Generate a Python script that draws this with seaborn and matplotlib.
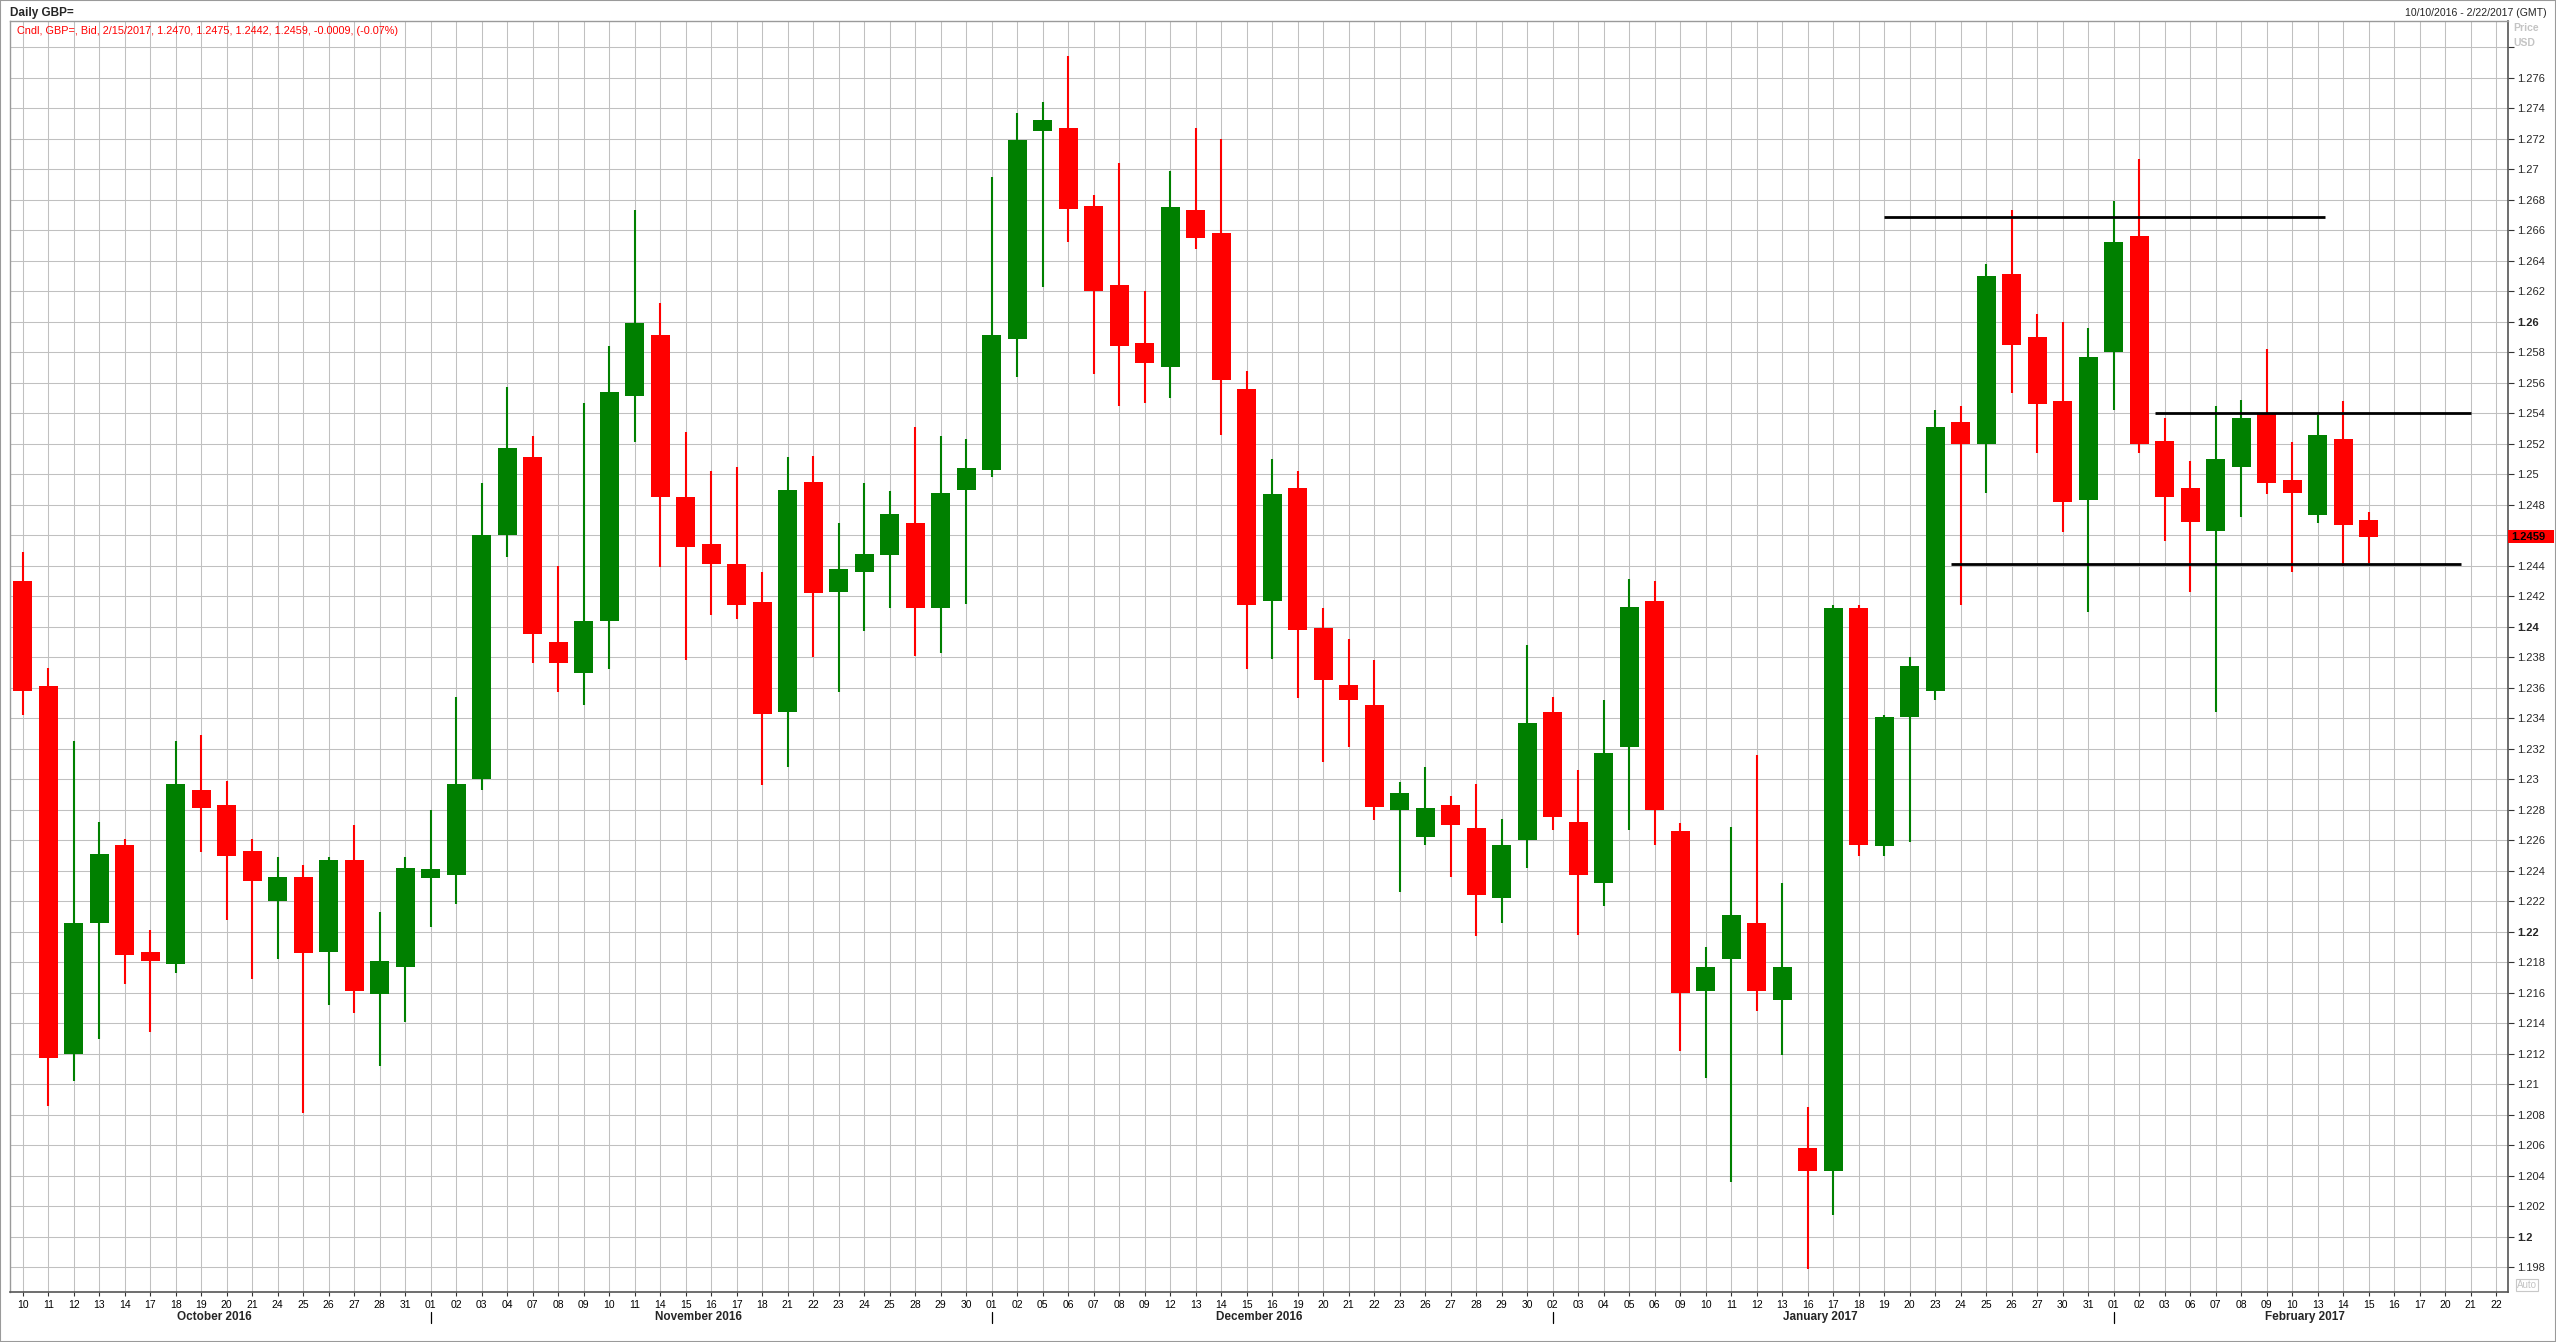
"""
GBP= daily candles, 10 Oct 2016 - 15 Feb 2017, with three support/resistance lines.
Writes out.png (2556 x 1342).
"""

import matplotlib
matplotlib.use("Agg")  # headless

import matplotlib.pyplot as plt
import matplotlib.transforms as mtransforms
from matplotlib.patches import Rectangle
import seaborn as sns
import pandas as pd
import numpy as np

# ──────────────────────────────────────────────
# DATA
# ──────────────────────────────────────────────

# one slot per weekday, the last five are empty (chart runs to 22 Feb)
days = pd.bdate_range("2016-10-10", "2017-02-22")

opens = [
    1.2430, 1.2361, 1.2120, 1.2206, 1.2257, 1.2187, 1.2179, 1.2293, 1.2283, 1.2253,
    1.2220, 1.2236, 1.2187, 1.2247, 1.2159, 1.2177, 1.2235, 1.2237, 1.2300, 1.2460,
    1.2511, 1.2390, 1.2370, 1.2404, 1.2551, 1.2591, 1.2485, 1.2454, 1.2441, 1.2416,
    1.2344, 1.2495, 1.2423, 1.2436, 1.2447, 1.2468, 1.2412, 1.2490, 1.2503, 1.2589,
    1.2725, 1.2727, 1.2676, 1.2624, 1.2586, 1.2570, 1.2673, 1.2658, 1.2556, 1.2417,
    1.2491, 1.2399, 1.2362, 1.2349, 1.2280, 1.2262, 1.2283, 1.2268, 1.2222, 1.2260,
    1.2344, 1.2272, 1.2232, 1.2321, 1.2417, 1.2266, 1.2161, 1.2182, 1.2206, 1.2155,
    1.2058, 1.2043, 1.2412, 1.2256, 1.2341, 1.2358, 1.2534, 1.2520, 1.2631, 1.2590,
    1.2548, 1.2483, 1.2580, 1.2656, 1.2522, 1.2491, 1.2463, 1.2505, 1.2540, 1.2496,
    1.2473, 1.2523, 1.2470,
]
highs = [
    1.2449, 1.2373, 1.2325, 1.2272, 1.2261, 1.2201, 1.2325, 1.2329, 1.2299, 1.2261,
    1.2249, 1.2244, 1.2249, 1.2270, 1.2213, 1.2249, 1.2280, 1.2354, 1.2494, 1.2557,
    1.2525, 1.2440, 1.2547, 1.2584, 1.2673, 1.2612, 1.2528, 1.2502, 1.2505, 1.2436,
    1.2511, 1.2512, 1.2468, 1.2494, 1.2489, 1.2531, 1.2525, 1.2523, 1.2695, 1.2737,
    1.2744, 1.2774, 1.2683, 1.2704, 1.2620, 1.2699, 1.2727, 1.2720, 1.2568, 1.2510,
    1.2502, 1.2412, 1.2392, 1.2378, 1.2298, 1.2308, 1.2289, 1.2297, 1.2274, 1.2388,
    1.2354, 1.2306, 1.2352, 1.2431, 1.2430, 1.2271, 1.2190, 1.2269, 1.2316, 1.2232,
    1.2085, 1.2414, 1.2414, 1.2342, 1.2380, 1.2542, 1.2545, 1.2638, 1.2673, 1.2605,
    1.2600, 1.2596, 1.2679, 1.2707, 1.2537, 1.2509, 1.2545, 1.2549, 1.2582, 1.2521,
    1.2539, 1.2548, 1.2475,
]
lows = [
    1.2342, 1.2086, 1.2102, 1.2130, 1.2166, 1.2134, 1.2173, 1.2252, 1.2208, 1.2169,
    1.2182, 1.2081, 1.2152, 1.2147, 1.2112, 1.2141, 1.2203, 1.2218, 1.2293, 1.2446,
    1.2376, 1.2357, 1.2349, 1.2372, 1.2521, 1.2439, 1.2378, 1.2408, 1.2405, 1.2296,
    1.2308, 1.2380, 1.2357, 1.2397, 1.2412, 1.2381, 1.2383, 1.2415, 1.2498, 1.2564,
    1.2623, 1.2652, 1.2566, 1.2545, 1.2547, 1.2550, 1.2648, 1.2526, 1.2372, 1.2379,
    1.2353, 1.2311, 1.2321, 1.2273, 1.2226, 1.2257, 1.2236, 1.2197, 1.2206, 1.2242,
    1.2267, 1.2198, 1.2217, 1.2267, 1.2257, 1.2122, 1.2104, 1.2036, 1.2148, 1.2119,
    1.1979, 1.2014, 1.2250, 1.2250, 1.2259, 1.2352, 1.2414, 1.2488, 1.2553, 1.2514,
    1.2462, 1.2410, 1.2542, 1.2514, 1.2456, 1.2423, 1.2344, 1.2472, 1.2487, 1.2436,
    1.2468, 1.2440, 1.2442,
]
closes = [
    1.2358, 1.2117, 1.2206, 1.2251, 1.2185, 1.2181, 1.2297, 1.2281, 1.2250, 1.2233,
    1.2236, 1.2186, 1.2247, 1.2161, 1.2181, 1.2242, 1.2241, 1.2297, 1.2460, 1.2517,
    1.2395, 1.2376, 1.2404, 1.2554, 1.2599, 1.2485, 1.2452, 1.2441, 1.2414, 1.2343,
    1.2490, 1.2422, 1.2438, 1.2448, 1.2474, 1.2412, 1.2488, 1.2504, 1.2591, 1.2719,
    1.2732, 1.2674, 1.2620, 1.2584, 1.2573, 1.2675, 1.2655, 1.2562, 1.2414, 1.2487,
    1.2398, 1.2365, 1.2352, 1.2282, 1.2291, 1.2281, 1.2270, 1.2224, 1.2257, 1.2337,
    1.2275, 1.2237, 1.2317, 1.2413, 1.2280, 1.2160, 1.2177, 1.2211, 1.2161, 1.2177,
    1.2043, 1.2412, 1.2257, 1.2341, 1.2374, 1.2531, 1.2520, 1.2630, 1.2585, 1.2546,
    1.2482, 1.2577, 1.2652, 1.2520, 1.2485, 1.2469, 1.2510, 1.2537, 1.2494, 1.2488,
    1.2526, 1.2467, 1.2459,
]

# hand-drawn trend lines: level, first slot, last slot
line_levels = [1.2669, 1.2540, 1.2441]
line_starts = [73.0, 83.6, 75.6]
line_ends = [90.3, 96.0, 95.6]

month_names = ["October 2016", "November 2016", "December 2016",
               "January 2017", "February 2017"]

header = "Daily GBP="
legend_text = ("Cndl, GBP=, Bid, 2/15/2017, 1.2470, 1.2475, 1.2442, 1.2459, "
               "-0.0009, (-0.07%)")
range_text = "10/10/2016 - 2/22/2017 (GMT)"
last_price = 1.2459

RED = "#ff0000"
GREEN = "#008000"
GRID = "#c0c0c0"

# ──────────────────────────────────────────────
# FRAME
# ──────────────────────────────────────────────

sns.set_style("white")
plt.rcParams["font.family"] = ["Liberation Sans", "DejaVu Sans"]
NARROW = ["Liberation Sans Narrow", "Liberation Sans", "DejaVu Sans"]

W, H = 2556, 1342
fig = plt.figure(figsize=(W / 100, H / 100), dpi=100)
fig.patch.set_facecolor("white")

# plot area in pixels: x 10 -> 2507.7, y 21 -> 1292.3
ax = fig.add_axes([10 / W, 1 - 1292.3 / H, (2507.7 - 10) / W, (1292.3 - 21) / H])

df = pd.DataFrame({"open": opens, "high": highs, "low": lows, "close": closes})
df["date"] = days[: len(df)]
df["pos"] = np.arange(len(df))
df["up"] = df["close"] >= df["open"]
df["color"] = np.where(df["up"], GREEN, RED)
df["body_lo"] = df[["open", "close"]].min(axis=1)
df["body_h"] = (df["close"] - df["open"]).abs().clip(lower=0.00006)

# wicks then bodies
ax.vlines(df["pos"], df["low"], df["high"], colors=df["color"], lw=1.5, zorder=2)
ax.bar(df["pos"], df["body_h"], bottom=df["body_lo"], width=0.745,
       color=df["color"], linewidth=0, zorder=3)

# trend lines
for lvl, a, b in zip(line_levels, line_starts, line_ends):
    ax.hlines(lvl, a, b, colors="black", lw=2.0, zorder=4)

# ── axes, grid ──
ax.set_xlim(-0.5, 97.45)
ax.set_ylim(1.19636, 1.27972)

slots = np.arange(len(days))
ax.set_xticks(slots)
ax.set_xticklabels([f"{d.day:02d}" for d in days], family=NARROW, fontsize=7.5)
ax.tick_params(axis="x", length=3, width=0.8, pad=2.5, color="#333333",
               labelcolor="black", direction="out", bottom=True)

yt = np.round(np.arange(1.198, 1.2781, 0.002), 3)
ylabels = []
for v in yt:
    if v >= 1.2775 or abs(v - 1.246) < 1e-6:
        ylabels.append("")  # hidden behind header / price tag
    else:
        ylabels.append(f"{v:g}")
ax.yaxis.tick_right()
ax.set_yticks(yt)
ax.set_yticklabels(ylabels, fontsize=8)
for lab, v in zip(ax.get_yticklabels(), yt):
    if abs(v * 100 - round(v * 100)) < 1e-6 and round(v * 100) % 2 == 0:
        lab.set_fontweight("bold")
ax.tick_params(axis="y", length=4, width=0.8, pad=3, color="#333333",
               right=True, left=False)

ax.grid(True, color=GRID, lw=0.75)
ax.set_axisbelow(True)

for side in ["left", "top"]:
    ax.spines[side].set_color("#9a9a9a")
    ax.spines[side].set_linewidth(1.0)
for side in ["right", "bottom"]:
    ax.spines[side].set_color("#555555")
    ax.spines[side].set_linewidth(1.2)

# ── month captions and separators under the day labels ──
month_key = days.strftime("%Y-%m")
blend = mtransforms.blended_transform_factory(ax.transData, fig.transFigure)
for name, key in zip(month_names, month_key.unique()):
    idx = slots[month_key == key]
    ax.text(idx.mean(), 1 - 1317 / H, name, transform=blend, ha="center",
            va="center", fontsize=8.5, fontweight="bold", family=NARROW)
    if idx[0] > 0:
        ax.plot([idx[0], idx[0]], [1 - 1311.5 / H, 1 - 1323 / H], transform=blend,
                color="black", lw=0.9, clip_on=False)

# ── last price tag on the right axis ──
tag = mtransforms.blended_transform_factory(ax.transAxes, ax.transData)
half = 6.5 / 30.5 * 0.002
ax.add_patch(Rectangle((1.0, last_price - half), 46 / 2497.7, 2 * half,
                       transform=tag, facecolor=RED, edgecolor="none",
                       clip_on=False, zorder=5))
ax.text(1.0015, last_price, f"{last_price:.4f}", transform=tag, ha="left",
        va="center", fontsize=8, fontweight="bold", color="black", zorder=6)

# ──────────────────────────────────────────────
# HEADER / SIDE TEXTS
# ──────────────────────────────────────────────

fig.text(10 / W, 1 - 13 / H, header, ha="left", va="center",
         fontsize=8.5, fontweight="bold")
fig.text(17 / W, 1 - 30.5 / H, legend_text, ha="left", va="center",
         fontsize=7.8, color=RED)
fig.text(2547 / W, 1 - 13 / H, range_text, ha="right", va="center", fontsize=7.6)
fig.text(2513 / W, 1 - 28 / H, "Price", ha="left", va="center", fontsize=7.5,
         fontweight="bold", color="#c4c4c4")
fig.text(2513 / W, 1 - 43 / H, "USD", ha="left", va="center", fontsize=7.5,
         fontweight="bold", color="#c4c4c4")
fig.text(2517 / W, 1 - 1285 / H, "Auto", ha="left", va="center", fontsize=7,
         color="#c4c4c4",
         bbox=dict(boxstyle="square,pad=0.15", fc="white", ec="#c8c8c8", lw=0.8))

# thin outer border like the terminal window
fig.patches.append(Rectangle((0, 0), 1, 1, transform=fig.transFigure, fill=False,
                             edgecolor="#9a9a9a", lw=1.5))

fig.savefig("out.png", dpi=100)
plt.close(fig)
